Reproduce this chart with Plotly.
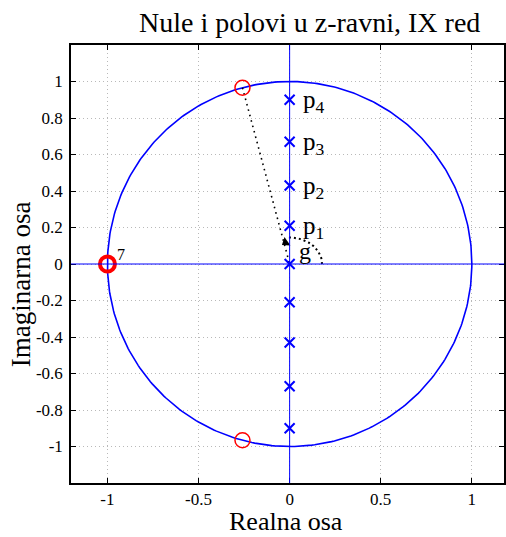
import numpy as np
import plotly.graph_objects as go

# Data
zero_angle_deg = 105.0
zero_pair_re = [np.cos(np.deg2rad(zero_angle_deg)), np.cos(np.deg2rad(zero_angle_deg))]
zero_pair_im = [np.sin(np.deg2rad(zero_angle_deg)), -np.sin(np.deg2rad(zero_angle_deg))]
multi_zero_re = [-1.0]
multi_zero_im = [0.0]
multi_zero_order = "7"
pole_re = [0, 0, 0, 0, 0, 0, 0, 0, 0]
pole_im = [0.0, 0.21, -0.21, 0.43, -0.43, 0.67, -0.67, 0.90, -0.90]
pole_labels = ["p<sub>1</sub>", "p<sub>2</sub>", "p<sub>3</sub>", "p<sub>4</sub>"]
pole_label_im = [0.21, 0.43, 0.67, 0.90]
x_ticks = [-1, -0.5, 0, 0.5, 1]
x_ticklabels = ["-1", "-0.5", "0", "0.5", "1"]
y_ticks = [-1, -0.8, -0.6, -0.4, -0.2, 0, 0.2, 0.4, 0.6, 0.8, 1]
y_ticklabels = ["-1", "-0.8", "-0.6", "-0.4", "-0.2", "0", "0.2", "0.4", "0.6", "0.8", "1"]

BLUE = "rgb(0,0,255)"
RED = "rgb(255,0,0)"
FONT = "Liberation Serif, Times New Roman, serif"

fig = go.Figure()

# unit circle
th = np.linspace(0, 2 * np.pi, 400)
fig.add_trace(go.Scatter(x=np.cos(th), y=np.sin(th), mode="lines",
                         line=dict(color=BLUE, width=1.6), hoverinfo="skip"))
# axes lines through origin
fig.add_shape(type="line", x0=-1.2, x1=1.2, y0=0, y1=0, line=dict(color=BLUE, width=1))
fig.add_shape(type="line", x0=0, x1=0, y0=-1.2, y1=1.2, line=dict(color=BLUE, width=1))

# dotted line from zero to origin
fig.add_trace(go.Scatter(x=[zero_pair_re[0], 0], y=[zero_pair_im[0], 0], mode="lines",
                         line=dict(color="black", width=1.6, dash="1.6px,4px"), hoverinfo="skip"))
# angle arc
ta = np.linspace(0, np.deg2rad(92), 60)
arc_x = 0.178 * np.cos(ta)
arc_y = 0.145 * np.sin(ta)
fig.add_trace(go.Scatter(x=arc_x, y=arc_y, mode="lines",
                         line=dict(color="black", width=2, dash="2px,3px"), hoverinfo="skip"))
# arrow head at the end of the arc
fig.add_trace(go.Scatter(x=[-0.022], y=[0.118], mode="markers",
                         marker=dict(symbol="triangle-left", size=9, angle=-35, color="black",
                                     line=dict(width=0)), hoverinfo="skip"))

# poles
fig.add_trace(go.Scatter(x=pole_re, y=pole_im, mode="markers",
                         marker=dict(symbol="x-thin-open", size=10, color=BLUE,
                                     line=dict(color=BLUE, width=2)), hoverinfo="skip"))
# zeros
fig.add_trace(go.Scatter(x=zero_pair_re, y=zero_pair_im, mode="markers",
                         marker=dict(symbol="circle-open", size=15, color=RED,
                                     line=dict(color=RED, width=1.5)), hoverinfo="skip"))
fig.add_trace(go.Scatter(x=multi_zero_re, y=multi_zero_im, mode="markers",
                         marker=dict(symbol="circle-open", size=15, color=RED,
                                     line=dict(color=RED, width=4)), hoverinfo="skip"))

fig.add_annotation(x=multi_zero_re[0] + 0.075, y=0.05, text=multi_zero_order, showarrow=False,
                   font=dict(family=FONT, size=16, color="black"))

for lab, yv in zip(pole_labels, pole_label_im):
    fig.add_annotation(x=0.062, y=yv - 0.01, text=lab, showarrow=False, xanchor="left",
                       yanchor="middle", font=dict(family=FONT, size=25, color="black"))
fig.add_annotation(x=0.083, y=0.07, text="g", showarrow=False,
                   font=dict(family=FONT, size=24, color="black"))

axis_common = dict(showline=True, linecolor="black", linewidth=1.5, mirror="ticks",
                   ticks="inside", ticklen=5, tickcolor="black", tickwidth=1,
                   showgrid=True, gridcolor="rgb(185,185,185)", griddash="1px,3px", gridwidth=1,
                   zeroline=False, tickfont=dict(family=FONT, size=17, color="black"))

fig.update_xaxes(range=[-1.2, 1.1765], tickvals=x_ticks, ticktext=x_ticklabels, ticklabelstandoff=0,
                 **axis_common)
fig.update_yaxes(range=[-1.2, 1.2], tickvals=y_ticks, ticktext=y_ticklabels, ticklabelstandoff=3,
                 **axis_common)

fig.add_annotation(xref="paper", yref="paper", x=(311 - 71) / 435, y=1 + (45 - 22) / 438.6,
                   text="Nule i polovi u z-ravni, IX red", showarrow=False,
                   font=dict(family=FONT, size=28, color="black"), yanchor="middle")
fig.add_annotation(xref="paper", yref="paper", x=(287 - 71) / 435, y=-(522 - 483.3) / 438.6,
                   text="Realna osa", showarrow=False,
                   font=dict(family=FONT, size=26, color="black"), yanchor="middle")
fig.add_annotation(xref="paper", yref="paper", x=-(71 - 21) / 435, y=(483.3 - 284) / 438.6,
                   text="Imaginarna osa", showarrow=False, textangle=-90,
                   font=dict(family=FONT, size=27, color="black"), xanchor="center",
                   yanchor="middle")

fig.update_layout(width=506, height=537, margin=dict(l=71, r=0, t=45, b=54),
                  paper_bgcolor="white", plot_bgcolor="white", showlegend=False)

fig.write_html("out.html")
